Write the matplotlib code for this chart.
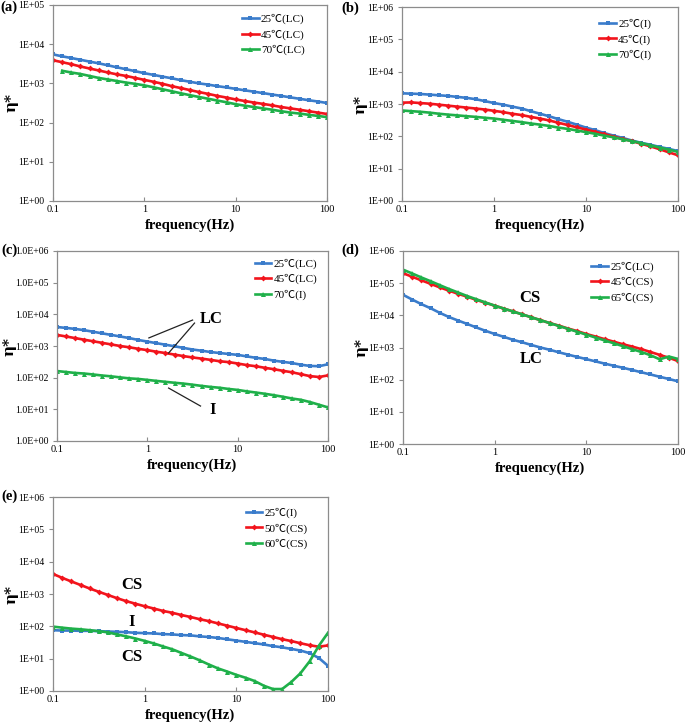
import matplotlib
matplotlib.use("Agg")
import matplotlib.pyplot as plt
from matplotlib.ticker import FixedLocator, FuncFormatter, NullLocator
import numpy as np

plt.rcParams['font.family'] = ['Liberation Serif', 'Noto Sans CJK SC', 'DejaVu Sans']

freq = [0.1, 0.126, 0.158, 0.2, 0.251, 0.316, 0.398, 0.501, 0.631, 0.794,
        1, 1.26, 1.58, 2, 2.51, 3.16, 3.98, 5.01, 6.31, 7.94,
        10, 12.6, 15.8, 20, 25.1, 31.6, 39.8, 50.1, 63.1, 79.4, 100]

# (a)
a_labels = ['25℃(LC)', '45℃(LC)', '70℃(LC)']
a_25 = [5500, 4900, 4450, 4000, 3600, 3250, 2900, 2570, 2300, 2050, 1820, 1650, 1490, 1350, 1210, 1100,
        1000, 930, 850, 790, 725, 665, 615, 565, 520, 480, 440, 405, 372, 345, 316]
a_45 = [3900, 3470, 3100, 2700, 2400, 2140, 1900, 1700, 1550, 1380, 1230, 1100, 980, 850, 760, 675,
        600, 540, 480, 435, 390, 355, 325, 300, 275, 250, 230, 213, 195, 180, 166]
a_70 = [np.nan, 2100, 1900, 1740, 1550, 1380, 1260, 1150, 1050, 975, 890, 795, 710, 630, 560, 500,
        450, 405, 365, 330, 295, 270, 250, 230, 213, 195, 180, 170, 158, 148, 138]

# (b)
b_labels = ['25℃(I)', '45℃(I)', '70℃(I)']
b_25 = [2140, 2090, 2040, 1950, 1860, 1780, 1660, 1550, 1410, 1230, 1070, 955, 830, 725, 600, 500,
        417, 340, 282, 230, 186, 155, 126, 105, 89, 74, 63, 55, 47, 41, 35]
b_45 = [1100, 1120, 1070, 1020, 955, 890, 830, 775, 725, 675, 615, 560, 500, 455, 400, 355,
        310, 263, 224, 190, 162, 138, 117, 98, 83, 71, 59, 49, 40, 32, 26]
b_70 = [630, 600, 575, 540, 500, 470, 445, 420, 400, 375, 355, 325, 300, 275, 250, 230,
        210, 186, 170, 152, 135, 120, 105, 93, 81, 71, 62, 53, 45, 39, 33]

# (c)
c_labels = ['25℃(LC)', '45℃(LC)', '70℃(I)']
c_25 = [3980, 3720, 3470, 3160, 2820, 2510, 2240, 2000, 1780, 1550, 1380, 1230, 1100, 980, 870, 775,
        710, 645, 600, 560, 525, 470, 425, 390, 345, 316, 290, 257, 235, 230, 265]
c_45 = [2240, 2000, 1780, 1580, 1410, 1260, 1120, 1000, 910, 815, 740, 660, 600, 535, 480, 435,
        400, 365, 330, 310, 280, 250, 230, 205, 185, 165, 148, 129, 112, 105, 118]
c_70 = [162, 151, 141, 135, 126, 117, 110, 102, 95, 91, 85, 79, 74, 69, 65, 60,
        55, 51, 48, 44, 41, 37, 34, 31, 28, 25, 22, 20, 17, 14, 11.5]

# (d)
d_labels = ['25℃(LC)', '45℃(CS)', '65℃(CS)']
d_25 = [43600, 30900, 22400, 16600, 12000, 8900, 6900, 5400, 4200, 3300, 2630, 2140, 1740, 1450, 1200, 1000,
        850, 710, 600, 510, 435, 370, 316, 270, 234, 200, 170, 145, 123, 105, 89]
d_45 = [204000, 158000, 123000, 95500, 74100, 58900, 46800, 38000, 30200, 24500, 20000, 16200, 13200, 10700,
        8700, 7080, 5750, 4790, 3890, 3240, 2630, 2190, 1820, 1510, 1260, 1070, 890, 725, 590, 480, 380]
d_65 = [263000, 200000, 151000, 115000, 87100, 66100, 51300, 39800, 31600, 25100, 20000, 16200, 13200, 10700,
        8700, 7080, 5750, 4680, 3800, 3090, 2510, 2040, 1660, 1350, 1100, 890, 725, 575, 430, 525, 440]

# (e)
e_labels = ['25℃(I)', '50℃(CS)', '60℃(CS)']
e_25 = [76, 74, 74, 72.5, 72.5, 71, 69, 67.6, 66, 63, 61.7, 60.3, 57.5, 56.2, 53.7, 52.5,
        49, 46.8, 43.7, 39.8, 36.3, 33.1, 30.2, 27.5, 24.5, 22.4, 20, 17.8, 14.8, 10.5, 6.0]
e_50 = [4170, 3160, 2450, 1900, 1480, 1170, 930, 740, 600, 500, 417, 355, 300, 263, 224, 195,
        166, 145, 123, 105, 89, 76, 65, 55, 47, 40, 35, 30, 26, 23.4, 25.7]
e_60 = [98, 91, 85, 81, 76, 71, 65, 56, 49, 42, 35.5, 29.5, 24, 19.5, 15.1, 11.7,
        8.9, 6.6, 5.0, 4.0, 3.16, 2.57, 2.04, 1.45, 1.15, 1.15, 1.9, 3.55, 8.3, 25, 63]

BLUE = '#3A7CCB'
RED = '#F2141C'
GREEN = '#1FB04A'
styles = [(BLUE, 's', 3.4), (RED, 'D', 3.0), (GREEN, '^', 3.6)]

W, H = 685, 724
fig = plt.figure(figsize=(W / 100, H / 100), dpi=100)


def px_axes(x0, x1, y0, y1):
    return fig.add_axes([x0 / W, 1 - y1 / H, (x1 - x0) / W, (y1 - y0) / H])


def make_panel(box, series, labels, ytop, fmt, leg_anchor, letter, letter_xy, ylab_x):
    ax = px_axes(*box)
    for (c, m, ms), ys, lab in zip(styles, series, labels):
        ax.plot(freq, ys, color=c, lw=1.9, marker=m, ms=ms, mec=c, mfc=c, mew=0, label=lab)
    ax.set_xscale('log')
    ax.set_yscale('log')
    ax.set_xlim(0.1, 100)
    ax.set_ylim(1, ytop)
    ax.xaxis.set_major_locator(FixedLocator([0.1, 1, 10, 100]))
    ax.xaxis.set_minor_locator(NullLocator())
    ax.xaxis.set_major_formatter(FuncFormatter(lambda v, p: f'{v:g}'))
    ydec = [10.0 ** k for k in range(0, int(round(np.log10(ytop))) + 1)]
    ax.yaxis.set_major_locator(FixedLocator(ydec))
    ax.yaxis.set_minor_locator(NullLocator())
    ax.yaxis.set_major_formatter(FuncFormatter(lambda v, p: fmt.format(int(round(np.log10(v))))))
    for s in ax.spines.values():
        s.set_color('#8c8c8c')
        s.set_linewidth(0.9)
    ax.tick_params(axis='y', direction='out', length=3, width=0.8, color='#8c8c8c',
                   labelsize=7, pad=3)
    ax.tick_params(axis='x', direction='in', length=3, width=0.8, color='#8c8c8c',
                   labelsize=7.5, pad=3)
    ax.set_xlabel('frequency(Hz)', fontsize=10.5, fontweight='bold', labelpad=3)
    ax.set_ylabel('η*', fontsize=11, fontweight='bold', family=['DejaVu Serif'])
    ax.yaxis.set_label_coords(ylab_x, 0.5)
    ax.legend(loc='upper left', bbox_to_anchor=leg_anchor, frameon=False, fontsize=8,
              handlelength=1.5, handletextpad=0.2, labelspacing=0.45, borderpad=0,
              borderaxespad=0)
    fig.text(letter_xy[0] / W, 1 - letter_xy[1] / H, letter, fontsize=10.5,
             fontweight='bold', va='center', ha='left')
    return ax


ax_a = make_panel((53, 327, 5, 201), [a_25, a_45, a_70], a_labels, 1e5, '1E+{:02d}',
                  (0.69, 0.955), '(a)', (0, 7), -0.125)
ax_b = make_panel((402, 678, 7, 201), [b_25, b_45, b_70], b_labels, 1e6, '1E+{:02d}',
                  (0.715, 0.94), '(b)', (341, 8), -0.125)
ax_c = make_panel((57, 328, 251, 441), [c_25, c_45, c_70], c_labels, 1e6, '1.0E+{:02d}',
                  (0.73, 0.96), '(c)', (1, 250), -0.15)
ax_d = make_panel((403, 678, 251, 444), [d_25, d_45, d_65], d_labels, 1e6, '1E+{:02d}',
                  (0.685, 0.945), '(d)', (341, 250), -0.125)
ax_e = make_panel((53, 328, 497, 691), [e_25, e_50, e_60], e_labels, 1e6, '1E+{:02d}',
                  (0.70, 0.945), '(e)', (1, 496), -0.125)

ann = dict(fontsize=12, fontweight='bold', ha='center', va='center')
ax_c.text(5.1, 7.2e3, 'LC', **ann)
ax_c.plot([3.17, 1.04], [6.6e3, 1.8e3], color='#222222', lw=0.9)
ax_c.plot([3.33, 1.72], [5.3e3, 600], color='#222222', lw=0.9)
ax_c.text(5.3, 9.3, 'I', **ann)
ax_c.plot([3.88, 1.72], [12.7, 47], color='#222222', lw=0.9)

ax_d.text(2.4, 3.5e4, 'CS', **ann)
ax_d.text(2.5, 450, 'LC', **ann)

ax_e.text(0.73, 1.9e3, 'CS', **ann)
ax_e.text(0.73, 135, 'I', **ann)
ax_e.text(0.73, 11, 'CS', **ann)

fig.savefig('out.png', dpi=100)
